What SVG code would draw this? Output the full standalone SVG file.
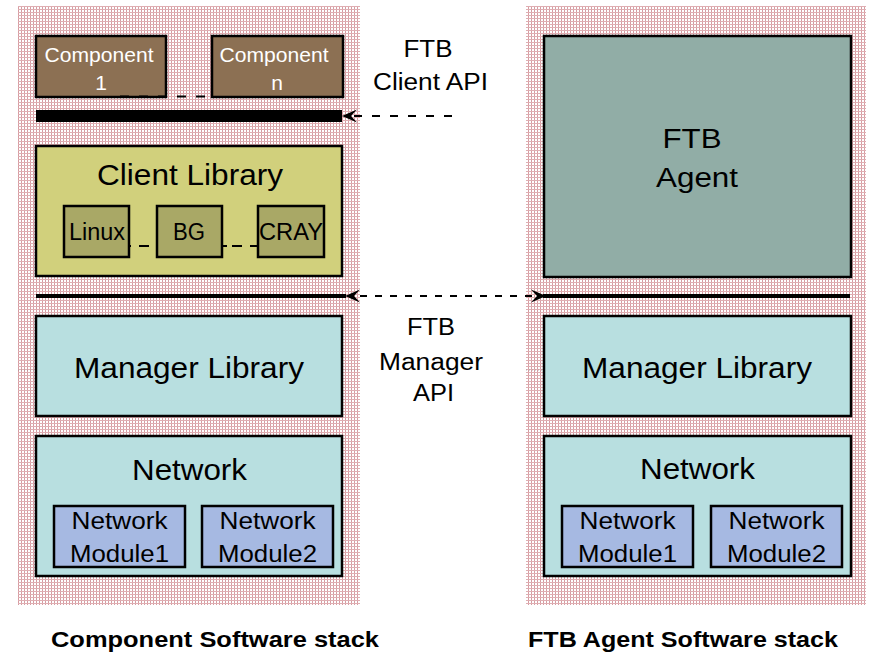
<svg xmlns="http://www.w3.org/2000/svg" width="873" height="655" viewBox="0 0 873 655" font-family="'Liberation Sans', Arial, sans-serif">
  <style>
    text { font-family: "Liberation Sans", Arial, sans-serif; fill: #000; text-anchor: middle; }
    .box { stroke: #000; stroke-width: 2.5; }
    .comp { fill: #8C7053; }
    .client { fill: #D1D07C; }
    .plat { fill: #A9A866; }
    .agent { fill: #91ADA6; }
    .mgr { fill: #B8DFE0; }
    .mod { fill: #A6B9E2; }
    .wt { fill: #FFFFFF; }
    .dash { stroke: #000; stroke-width: 2; fill: none; }
    .bus { stroke: #000; stroke-width: 4; fill: none; }
    .title { font-weight: bold; font-size: 22px; }
  </style>
  <defs>
    <pattern id="grid" width="3" height="3" patternUnits="userSpaceOnUse">
      <rect width="3" height="3" fill="#FFFFFF"/>
      <rect width="1" height="3" fill="#D69CA2"/>
      <rect width="3" height="1" fill="#DFAEB2"/>
    </pattern>
    <marker id="head" viewBox="0 -7 15 14" refX="15" refY="0" markerWidth="15" markerHeight="14" markerUnits="userSpaceOnUse" orient="auto">
      <path d="M15,0 L0,-6.5 L6,0 L0,6.5 Z" fill="#000"/>
    </marker>
  </defs>

  <!-- stack backgrounds -->
  <rect x="18" y="6" width="342" height="599" fill="url(#grid)"/>
  <rect x="526" y="6" width="340" height="599" fill="url(#grid)"/>
  <line x1="18" y1="370" x2="360" y2="370" stroke="#8A8A8A" stroke-width="1" stroke-dasharray="1 2" opacity="0.6"/>
  <line x1="526" y1="370" x2="866" y2="370" stroke="#8A8A8A" stroke-width="1" stroke-dasharray="1 2" opacity="0.6"/>

  <!-- Component software stack -->
  <g id="component-1">
    <rect class="box comp" x="36" y="36" width="130" height="61"/>
    <text class="wt" x="99" y="62" font-size="21" textLength="109" lengthAdjust="spacingAndGlyphs">Component</text>
    <text class="wt" x="101" y="90" font-size="21">1</text>
  </g>
  <g id="component-n">
    <rect class="box comp" x="212" y="36" width="131" height="61"/>
    <text class="wt" x="274" y="62" font-size="21" textLength="109" lengthAdjust="spacingAndGlyphs">Component</text>
    <text class="wt" x="277" y="90" font-size="21">n</text>
  </g>
  <g id="client-api-bar">
    <rect x="36" y="110" width="306" height="12" fill="#000"/>
  </g>
  <g id="client-library">
    <rect class="box client" x="36" y="146" width="306" height="130"/>
    <text x="190" y="185" font-size="30" textLength="186" lengthAdjust="spacingAndGlyphs">Client Library</text>
  </g>
  <g id="platforms-link">
    <line class="dash" x1="129" y1="246" x2="157" y2="246" stroke-dasharray="2 8 10 20"/>
    <line class="dash" x1="222" y1="246" x2="258" y2="246" stroke-dasharray="5 5 10 8 10"/>
  </g>
  <g id="linux">
    <rect class="box plat" x="64" y="206" width="65" height="51"/>
    <text x="97" y="240" font-size="23" textLength="56" lengthAdjust="spacingAndGlyphs">Linux</text>
  </g>
  <g id="bg">
    <rect class="box plat" x="157" y="206" width="65" height="51"/>
    <text x="189" y="240" font-size="23" textLength="32" lengthAdjust="spacingAndGlyphs">BG</text>
  </g>
  <g id="cray">
    <rect class="box plat" x="258" y="206" width="66" height="51"/>
    <text x="291" y="240" font-size="23" textLength="64" lengthAdjust="spacingAndGlyphs">CRAY</text>
  </g>
  <g id="manager-library-left">
    <rect class="box mgr" x="36" y="316" width="306" height="100"/>
    <text x="189" y="378" font-size="30" textLength="230" lengthAdjust="spacingAndGlyphs">Manager Library</text>
  </g>
  <g id="network-left">
    <rect class="box mgr" x="36" y="436" width="306" height="140"/>
    <text x="189.5" y="480" font-size="30" textLength="115" lengthAdjust="spacingAndGlyphs">Network</text>
  </g>
  <g id="module1-left">
    <rect class="box mod" x="54" y="506" width="131" height="61"/>
    <text x="119.5" y="529" font-size="23" textLength="96" lengthAdjust="spacingAndGlyphs">Network</text>
    <text x="119.5" y="562" font-size="23" textLength="99" lengthAdjust="spacingAndGlyphs">Module1</text>
  </g>
  <g id="module2-left">
    <rect class="box mod" x="202" y="506" width="131" height="61"/>
    <text x="267.5" y="529" font-size="23" textLength="96" lengthAdjust="spacingAndGlyphs">Network</text>
    <text x="267.5" y="562" font-size="23" textLength="99" lengthAdjust="spacingAndGlyphs">Module2</text>
  </g>

  <!-- FTB agent software stack -->
  <g id="ftb-agent">
    <rect class="box agent" x="544" y="36" width="307" height="241"/>
    <text x="692" y="148" font-size="27" textLength="59" lengthAdjust="spacingAndGlyphs">FTB</text>
    <text x="697" y="187" font-size="27" textLength="82" lengthAdjust="spacingAndGlyphs">Agent</text>
  </g>
  <g id="manager-library-right">
    <rect class="box mgr" x="544" y="316" width="307" height="100"/>
    <text x="697" y="378" font-size="30" textLength="230" lengthAdjust="spacingAndGlyphs">Manager Library</text>
  </g>
  <g id="network-right">
    <rect class="box mgr" x="544" y="436" width="307" height="140"/>
    <text x="697.5" y="479" font-size="30" textLength="115" lengthAdjust="spacingAndGlyphs">Network</text>
  </g>
  <g id="module1-right">
    <rect class="box mod" x="562" y="506" width="131" height="61"/>
    <text x="627.5" y="529" font-size="23" textLength="96" lengthAdjust="spacingAndGlyphs">Network</text>
    <text x="627.5" y="562" font-size="23" textLength="99" lengthAdjust="spacingAndGlyphs">Module1</text>
  </g>
  <g id="module2-right">
    <rect class="box mod" x="711" y="506" width="131" height="61"/>
    <text x="776.5" y="529" font-size="23" textLength="96" lengthAdjust="spacingAndGlyphs">Network</text>
    <text x="776.5" y="562" font-size="23" textLength="99" lengthAdjust="spacingAndGlyphs">Module2</text>
  </g>

  <!-- connectors -->
  <g id="connectors">
    <line class="dash" x1="120" y1="96.5" x2="212" y2="96.5" stroke-dasharray="9 10"/>
    <line class="dash" x1="452" y1="116" x2="352" y2="116" stroke-dasharray="8 10"/>
    <path d="M357,116 L342,116" stroke="none" fill="none" marker-end="url(#head)"/>
    <line class="bus" x1="36" y1="296" x2="346" y2="296"/>
    <line class="dash" x1="360" y1="296" x2="534" y2="296" stroke-dasharray="7 8"/>
    <line class="bus" x1="543" y1="296" x2="850" y2="296"/>
    <path d="M360,296 L345,296" stroke="none" fill="none" marker-end="url(#head)"/>
    <path d="M530,296 L546,296" stroke="none" fill="none" marker-end="url(#head)"/>
  </g>

  <!-- interface labels -->
  <g id="client-api-label">
    <text x="428" y="57" font-size="23" textLength="49" lengthAdjust="spacingAndGlyphs">FTB</text>
    <text x="430.5" y="90" font-size="23" textLength="115" lengthAdjust="spacingAndGlyphs">Client API</text>
  </g>
  <g id="manager-api-label">
    <text x="431" y="335" font-size="23" textLength="48" lengthAdjust="spacingAndGlyphs">FTB</text>
    <text x="431" y="370" font-size="23" textLength="104" lengthAdjust="spacingAndGlyphs">Manager</text>
    <text x="433.5" y="401" font-size="23" textLength="41" lengthAdjust="spacingAndGlyphs">API</text>
  </g>

  <!-- stack titles -->
  <g id="titles">
    <text class="title" x="215" y="647" textLength="328" lengthAdjust="spacingAndGlyphs">Component Software stack</text>
    <text class="title" x="683" y="647" textLength="310" lengthAdjust="spacingAndGlyphs">FTB Agent Software stack</text>
  </g>
</svg>
